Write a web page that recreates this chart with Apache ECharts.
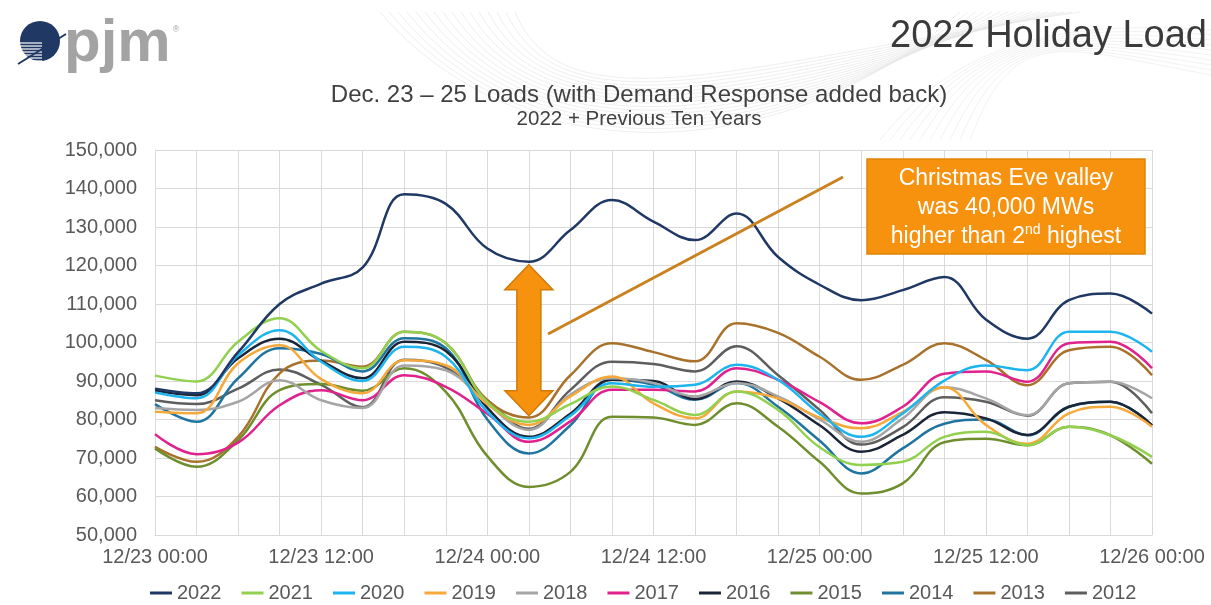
<!DOCTYPE html>
<html><head><meta charset="utf-8">
<script src="https://cdn.jsdelivr.net/npm/echarts@6.0.0/dist/echarts.min.js"></script>
<style>html,body{margin:0;padding:0;background:#fff}#c{width:1211px;height:605px}</style>
</head><body><div id="c"></div>
<script>
// ---- data (MW, sampled every 3 hours from 12/23 00:00) ----
const hours = [0,3,6,9,12,15,18,21,24,27,30,33,36,39,42,45,48,51,54,57,60,63,66,69,72];
const xTickLabels = ['12/23 00:00','12/23 12:00','12/24 00:00','12/24 12:00','12/25 00:00','12/25 12:00','12/26 00:00'];
const years = ['2022','2021','2020','2019','2018','2017','2016','2015','2014','2013','2012'];
const colors = ['#1F3864','#92D050','#1EB4EE','#F5A93A','#A5A5A5','#E0228C','#1B2538','#6F8E2E','#1F74A0','#A8722C','#5E5E5E'];

const load2022 = [88000,86800,97500,110000,115300,119500,138500,136000,124400,121000,129200,137000,131400,126600,133500,122200,115000,111000,113600,117000,106000,101000,111000,112700,107500];
const load2021 = [91400,89900,100200,106300,97800,93300,102800,99800,84500,79400,84000,88600,85100,81200,87300,82500,72800,68200,69000,75500,76800,73300,78100,75900,70300];
const load2020 = [87000,85500,96700,103200,95000,90000,98900,96300,82000,75100,81000,89400,88500,89000,94200,90300,81500,75500,81600,90100,94000,92800,102800,102800,97600];
const load2019 = [82000,81600,94600,99300,90500,86800,95400,94100,84000,78600,86000,91200,84200,80300,87300,85500,80500,77700,82000,88400,78600,73700,81600,83300,78100];
const load2018 = [83000,82500,84600,90200,85000,83000,94000,92800,84000,77300,86500,90700,89500,86000,89500,86000,80000,74200,80300,88400,85500,81100,89400,89800,85500];
const load2017 = [76200,71000,74000,83700,87600,85000,91500,88500,81500,74200,79500,87700,87700,87300,93300,90300,84500,79000,83300,91900,92500,89800,99800,100200,93300];
const load2016 = [87500,86300,95900,101000,95200,90700,100200,97800,83000,75500,81500,90300,90000,85300,89900,85500,78500,71600,76000,81900,80300,76000,83300,84600,78500];
const load2015 = [72500,67700,74600,87600,89200,87500,93300,87200,70500,62500,66400,80700,80500,78600,84200,78100,69000,60800,63400,74100,75000,73300,78100,75900,68500];
const load2014 = [84000,79400,90700,98500,97000,92500,101100,98500,80000,71200,78500,90300,89000,85100,89500,83300,74500,66000,72500,78900,80000,75900,83300,84600,78500];
const load2013 = [72900,69000,75500,92000,95300,93700,102800,99800,85000,80500,91500,99800,97500,95100,105000,102500,96300,90300,94200,99800,95500,88900,98000,98900,91500];
const load2012 = [85000,84000,88000,93000,89000,83200,95500,93500,85000,77600,87700,95000,94400,92500,99000,91500,82500,73500,78000,85800,84600,81000,89400,89800,81600];
const allLoads = [load2022,load2021,load2020,load2019,load2018,load2017,load2016,load2015,load2014,load2013,load2012];

// annotation anchors (data coords)
const valleyHour = 27, valley2022 = 121000, valleySecond = 81000;

const FF = 'Liberation Sans, Arial, sans-serif';
const chart = echarts.init(document.getElementById('c'), null, {renderer:'canvas'});

const series = years.map((y, i) => ({
  name: y, type: 'line', smooth: 0.4, showSymbol: false, symbol: 'none',
  data: hours.map((h, k) => [h, allLoads[i][k]]),
  lineStyle: {width: 2.5, color: colors[i]}, itemStyle: {color: colors[i]},
  z: 20 - i, emphasis: {disabled: true}
}));

chart.setOption({
  animation: false,
  backgroundColor: '#ffffff',
  grid: {left: 155, right: 59, top: 150, bottom: 70, containLabel: false},
  xAxis: {
    type: 'value', min: 0, max: 72, interval: 3,
    axisLine: {show: true, lineStyle: {color: '#D9D9D9', width: 1}},
    axisTick: {show: false},
    splitLine: {show: true, lineStyle: {color: '#D9D9D9', width: 1}},
    axisLabel: {
      margin: 12, fontSize: 20, color: '#595959', fontFamily: FF,
      showMinLabel: true, showMaxLabel: true, hideOverlap: false,
      formatter: v => (v % 12 === 0 ? xTickLabels[v / 12] : '')
    }
  },
  yAxis: {
    type: 'value', min: 50000, max: 150000, interval: 10000,
    axisLine: {show: true, lineStyle: {color: '#D9D9D9', width: 1}},
    axisTick: {show: false},
    splitLine: {show: true, lineStyle: {color: '#D9D9D9', width: 1}},
    axisLabel: {margin: 18, fontSize: 20, color: '#595959', fontFamily: FF,
      formatter: v => v.toLocaleString('en-US')}
  },
  legend: {
    data: years, top: 578, left: 145, icon: 'rect', itemWidth: 22, itemHeight: 3,
    itemGap: 20, textStyle: {fontSize: 20, color: '#595959', fontFamily: FF},
    selectedMode: false
  },
  series: series
});

// ---- graphics ----
const g = [];
// faint background waves (decoration)
for (let i = 0; i < 16; i++) {
  g.push({type: 'bezierCurve', silent: true, z: -5,
    shape: {x1: 380 + i * 9, y1: 12, cpx1: 520 + i * 3, cpy1: 175 - i * 3, cpx2: 780 - i * 3, cpy2: 170 - i * 7, x2: 960 + i * 8, y2: 12},
    style: {stroke: '#E6E6E6', lineWidth: 0.7, fill: null}});
}
for (let i = 0; i < 10; i++) {
  g.push({type: 'bezierCurve', silent: true, z: -5,
    shape: {x1: 880 + i * 10, y1: 140, cpx1: 960 + i * 6, cpy1: 40 - i * 2, cpx2: 1060, cpy2: 20 + i * 3, x2: 1211, y2: 30 + i * 5},
    style: {stroke: '#EAEAEA', lineWidth: 0.6, fill: null}});
}
// logo
g.push({type: 'circle', shape: {cx: 40, cy: 41, r: 20}, style: {fill: '#1F3864'}});
for (let i = 0; i < 7; i++) {
  g.push({type: 'line', shape: {x1: 14, y1: 43 + i * 3, x2: 42, y2: 43 + i * 3}, style: {stroke: '#ffffff', lineWidth: 1.2}});
}
g.push({type: 'line', shape: {x1: 18, y1: 64, x2: 66, y2: 34}, style: {stroke: '#1F3864', lineWidth: 2}});
g.push({type: 'text', style: {text: 'pjm', x: 64, y: 74, fill: '#A3A3A3', font: 'bold 60px ' + FF, textAlign: 'left', verticalAlign: 'bottom'}});
g.push({type: 'text', style: {text: '®', x: 176, y: 30, fill: '#A6A6A6', font: '9px ' + FF, textAlign: 'center', verticalAlign: 'middle'}});
// titles
g.push({type: 'text', style: {text: '2022 Holiday Load', x: 1207, y: 37, fill: '#3A3A3A', font: '38px ' + FF, textAlign: 'right', verticalAlign: 'middle'}});
g.push({type: 'text', style: {text: 'Dec. 23 \u2013 25 Loads (with Demand Response added back)', x: 639, y: 95, fill: '#404040', font: '24px ' + FF, textAlign: 'center', verticalAlign: 'middle'}});
g.push({type: 'text', style: {text: '2022 + Previous Ten Years', x: 639, y: 119, fill: '#404040', font: '20.5px ' + FF, textAlign: 'center', verticalAlign: 'middle'}});

// double arrow tied to data values
const pTop = chart.convertToPixel({gridIndex: 0}, [valleyHour, valley2022]);
const pBot = chart.convertToPixel({gridIndex: 0}, [valleyHour, valleySecond]);
const cx = pTop[0], t = pTop[1] + 3, b = pBot[1];
const hw = 24, sw = 12, hh = 25;
g.push({type: 'polygon', z: 50, shape: {points: [
  [cx, t], [cx + hw, t + hh], [cx + sw, t + hh], [cx + sw, b - hh], [cx + hw, b - hh], [cx, b],
  [cx - hw, b - hh], [cx - sw, b - hh], [cx - sw, t + hh], [cx - hw, t + hh]]},
  style: {fill: '#F7920F', stroke: '#D07A08', lineWidth: 1.5}});
// pointer line
g.push({type: 'line', z: 50, shape: {x1: 548, y1: 334, x2: 843, y2: 177}, style: {stroke: '#C9821F', lineWidth: 3}});
// annotation box
g.push({type: 'rect', z: 50, shape: {x: 867, y: 159, width: 278, height: 95}, style: {fill: '#F7920F', stroke: '#DE8506', lineWidth: 1.5}});
g.push({type: 'text', z: 51, style: {text: 'Christmas Eve valley', x: 1006, y: 179, fill: '#ffffff', font: '23px ' + FF, textAlign: 'center', verticalAlign: 'middle'}});
g.push({type: 'text', z: 51, style: {text: 'was 40,000 MWs', x: 1006, y: 208, fill: '#ffffff', font: '23px ' + FF, textAlign: 'center', verticalAlign: 'middle'}});
g.push({type: 'text', z: 51, style: {
  text: '{a|higher than 2}{s|nd}{a| highest}', x: 1006, y: 237, textAlign: 'center', verticalAlign: 'middle',
  fill: '#ffffff', font: '23px ' + FF,
  rich: {a: {fontSize: 23, fontFamily: FF, fill: '#ffffff', lineHeight: 28, verticalAlign: 'middle'},
         s: {fontSize: 14, fontFamily: FF, fill: '#ffffff', lineHeight: 14, verticalAlign: 'top'}}}});

chart.setOption({graphic: {elements: g}});
</script>
</body></html>
